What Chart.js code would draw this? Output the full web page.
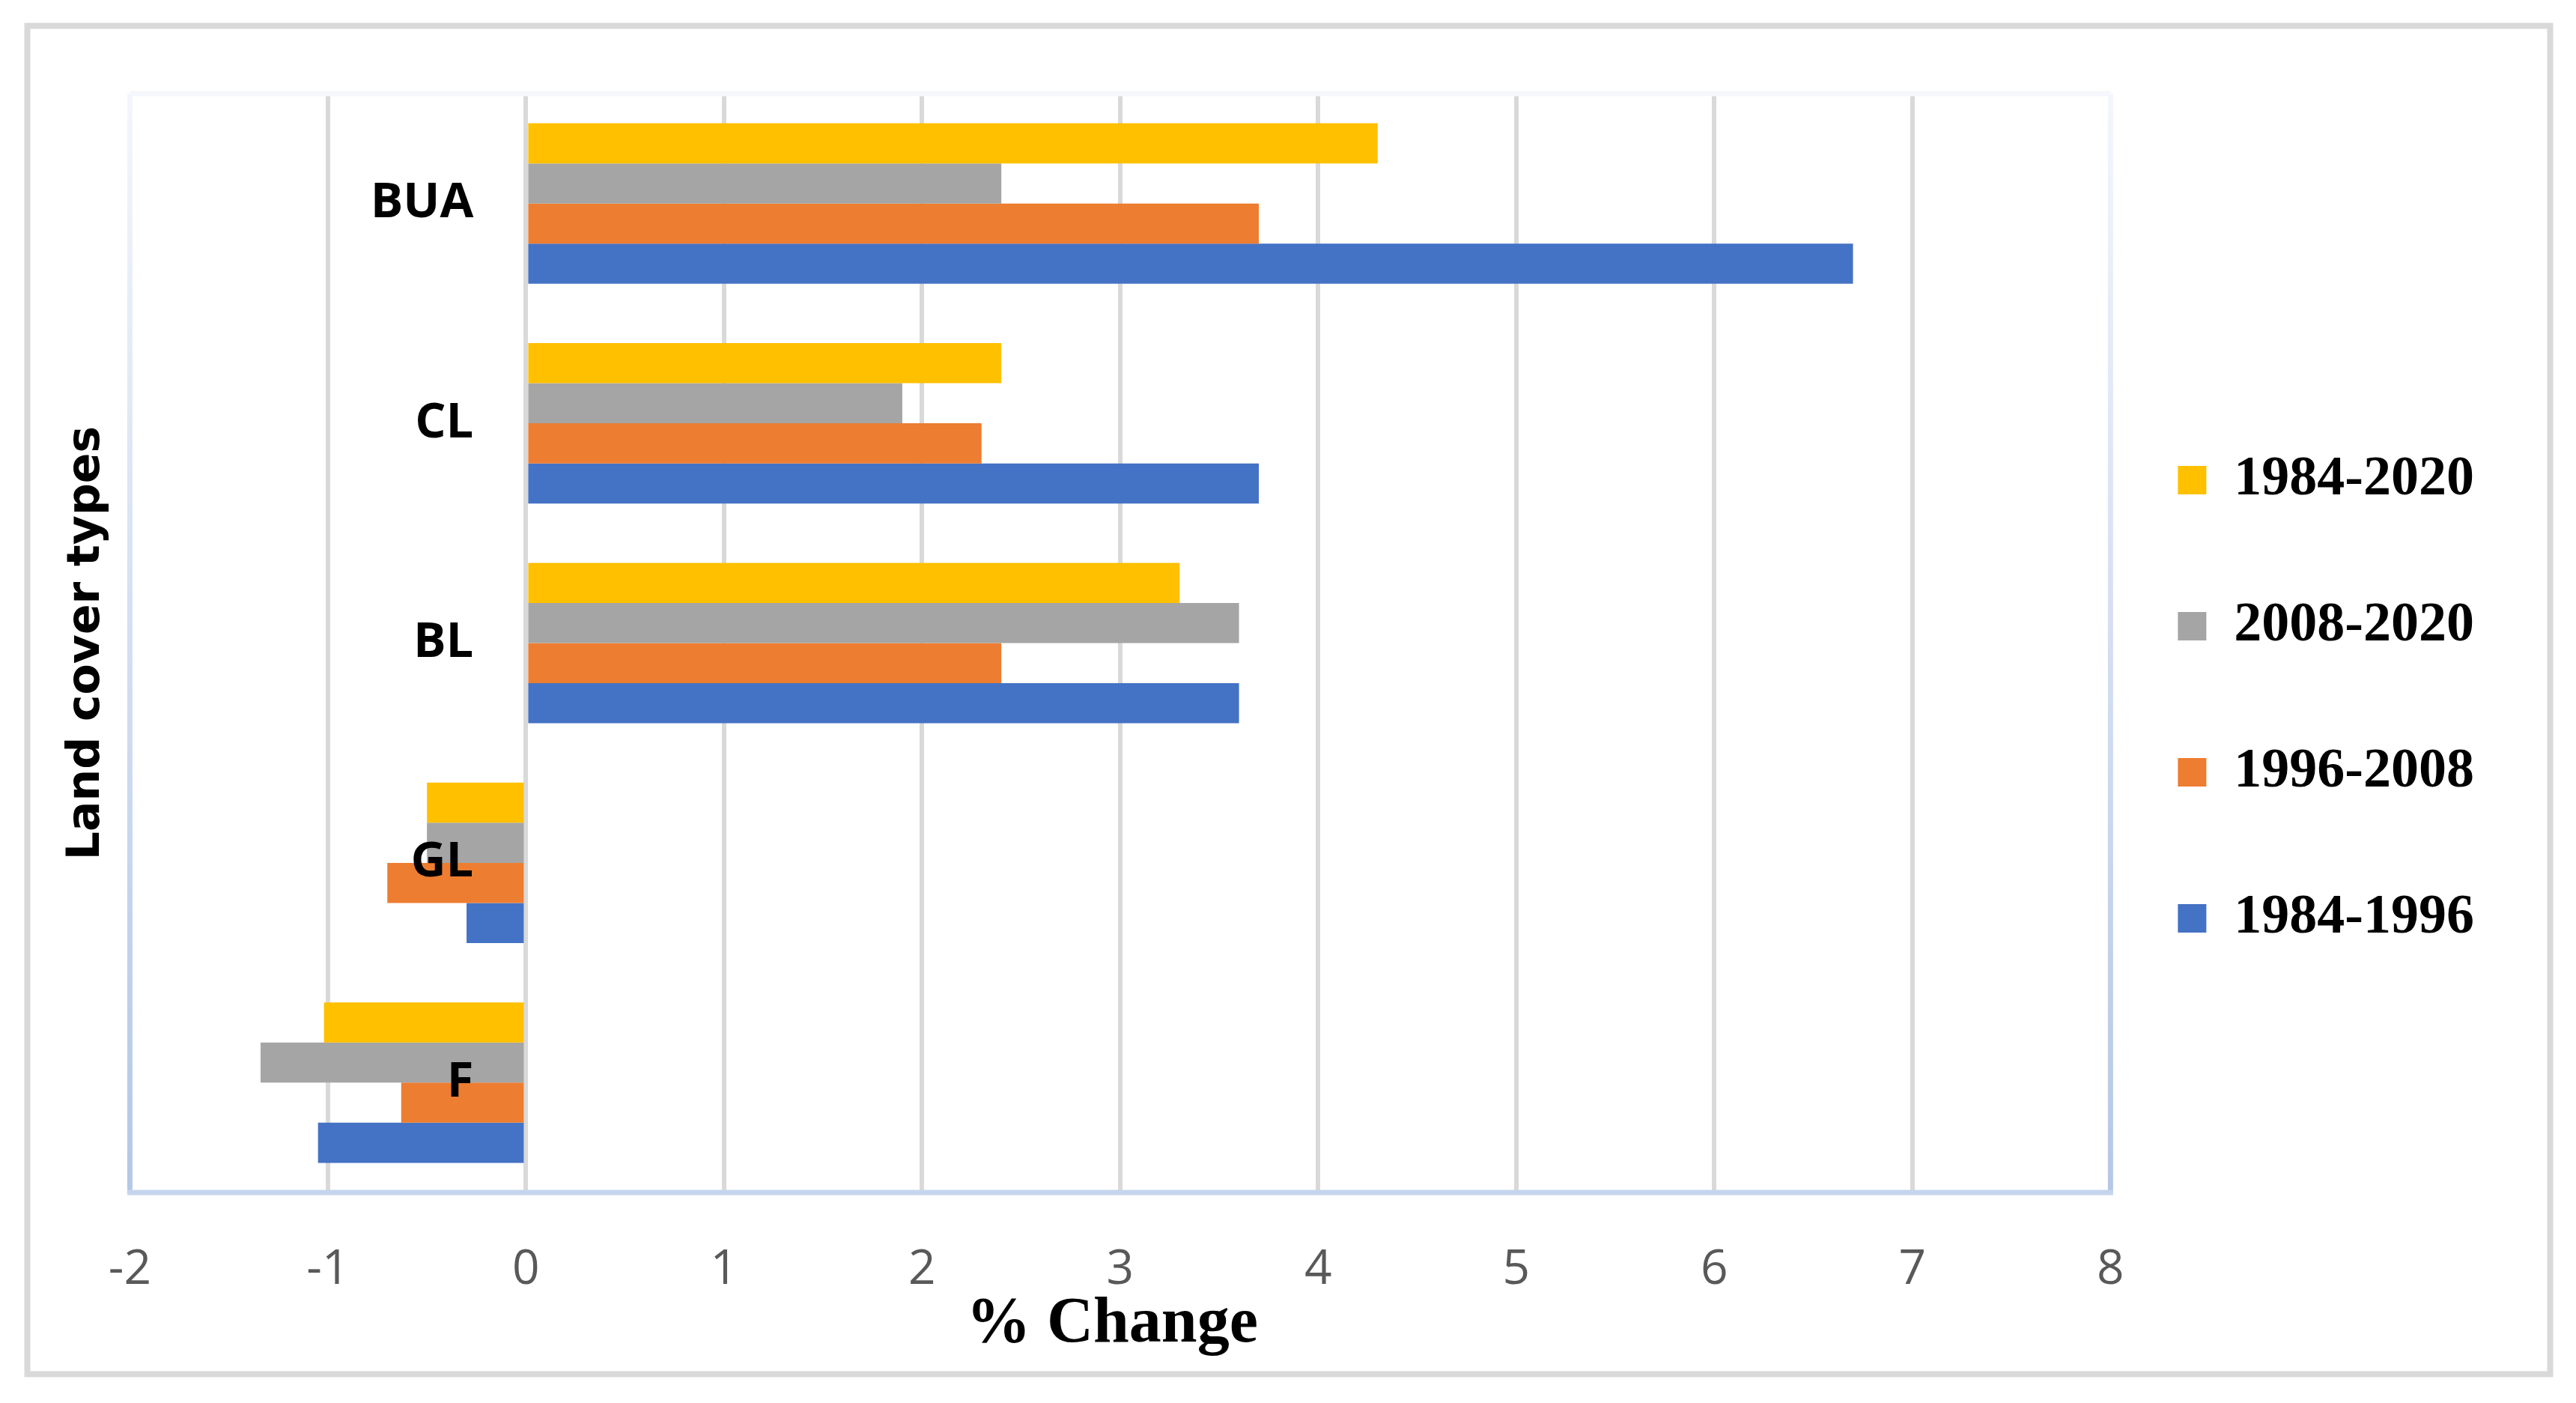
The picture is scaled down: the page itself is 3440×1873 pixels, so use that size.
<!DOCTYPE html>
<html>
<head>
<meta charset="utf-8">
<script src="https://cdn.jsdelivr.net/npm/chart.js@4/dist/chart.umd.min.js"></script>
<style>
  html, body { margin: 0; padding: 0; background: #fff; }
  canvas { display: block; }
</style>
</head>
<body>
<canvas id="changeChart" width="3440" height="1873"></canvas>
<script>
// land cover categories, top to bottom
const categories = ['BUA', 'CL', 'BL', 'GL', 'F'];

// % change per period
const change1984to2020 = [4.3, 2.4, 3.3, -0.5, -1.02];
const change2008to2020 = [2.4, 1.9, 3.6, -0.5, -1.34];
const change1996to2008 = [3.7, 2.3, 2.4, -0.7, -0.63];
const change1984to1996 = [6.7, 3.7, 3.6, -0.3, -1.05];

const xTicks = [-2, -1, 0, 1, 2, 3, 4, 5, 6, 7, 8];

// outer border + plot frame
const framePlugin = {
    id: 'frame',
    beforeDraw(chart) {
        const ctx = chart.ctx;
        ctx.save();
        ctx.fillStyle = '#ffffff';
        ctx.fillRect(0, 0, chart.width, chart.height);
        ctx.strokeStyle = '#D9D9D9';
        ctx.lineWidth = 8;
        ctx.strokeRect(36.5, 34.5, 3369, 1800);
        ctx.restore();
    },
    beforeDatasetsDraw(chart) {
        const {ctx, chartArea: a} = chart;
        ctx.save();
        ctx.lineWidth = 7;
        const side = ctx.createLinearGradient(0, a.top, 0, a.bottom);
        side.addColorStop(0, '#F3F6FC');
        side.addColorStop(1, '#B4C7E7');
        ctx.strokeStyle = '#F5F7FC';
        ctx.beginPath();
        ctx.moveTo(a.left, a.top);
        ctx.lineTo(a.right, a.top);
        ctx.stroke();
        ctx.strokeStyle = side;
        ctx.beginPath();
        ctx.moveTo(a.left, a.top);
        ctx.lineTo(a.left, a.bottom);
        ctx.moveTo(a.right, a.top);
        ctx.lineTo(a.right, a.bottom);
        ctx.stroke();
        ctx.strokeStyle = '#C6D5EE';
        ctx.beginPath();
        ctx.moveTo(a.left - 3.5, a.bottom);
        ctx.lineTo(a.right + 3.5, a.bottom);
        ctx.stroke();
        ctx.restore();
    }
};

const ctx = document.getElementById('changeChart').getContext('2d');

new Chart(ctx, {
    type: 'bar',
    data: {
        labels: categories,
        datasets: [
            { label: '1984-2020', data: change1984to2020, backgroundColor: '#FFC000', yAxisID: 'y' },
            { label: '2008-2020', data: change2008to2020, backgroundColor: '#A5A5A5', yAxisID: 'y' },
            { label: '1996-2008', data: change1996to2008, backgroundColor: '#ED7D31', yAxisID: 'y' },
            { label: '1984-1996', data: change1984to1996, backgroundColor: '#4472C4', yAxisID: 'y' }
        ]
    },
    options: {
        indexAxis: 'y',
        responsive: false,
        animation: false,
        devicePixelRatio: 1,
        datasets: {
            bar: { categoryPercentage: 0.73, barPercentage: 1.0, borderWidth: 0 }
        },
        layout: {
            padding: { top: 94.4, left: 78.1, right: 126, bottom: 69.4 }
        },
        scales: {
            y: {
                type: 'category',
                position: { x: -0.265 },
                z: 1,
                grid: { display: false, drawTicks: false },
                border: { display: false },
                ticks: {
                    z: 1,
                    color: '#000000',
                    font: { family: 'Open Sans', weight: 'bold', size: 65 }
                }
            },
            y2: {
                type: 'category',
                position: 'left',
                grid: { display: false, drawTicks: false },
                border: { display: false },
                ticks: { display: false },
                title: {
                    display: true,
                    text: 'Land cover types',
                    color: '#000000',
                    font: { family: 'DejaVu Sans', weight: 'bold', size: 60 },
                    padding: { top: 2, bottom: 21.3 }
                }
            },
            x: {
                type: 'linear',
                position: 'bottom',
                min: xTicks[0],
                max: xTicks[xTicks.length - 1],
                afterBuildTicks(scale) {
                    scale.ticks = xTicks.map(v => ({ value: v }));
                },
                grid: { color: '#D9D9D9', lineWidth: 6, drawTicks: false },
                border: { display: false },
                ticks: {
                    padding: 65,
                    color: '#595959',
                    font: { family: 'Open Sans', size: 64 }
                },
                title: {
                    display: true,
                    text: '% Change ',
                    color: '#000000',
                    font: { family: 'Liberation Serif', weight: 'bold', size: 86, lineHeight: 0.8 },
                    padding: { top: -64, bottom: 0 }
                }
            }
        },
        plugins: {
            title: {
                display: true,
                text: ' ',
                padding: 0,
                font: { size: 10, lineHeight: '30.6px' }
            },
            legend: {
                position: 'right',
                labels: {
                    boxWidth: 38,
                    boxHeight: 38,
                    padding: 90,
                    color: '#000000',
                    font: { family: 'Liberation Serif', weight: 'bold', size: 74, lineHeight: '105px' },
                    generateLabels(chart) {
                        const items = Chart.defaults.plugins.legend.labels.generateLabels(chart);
                        items.forEach(it => { it.text = [it.text]; it.lineWidth = 0; });
                        return items;
                    }
                }
            },
            tooltip: { enabled: false }
        }
    },
    plugins: [framePlugin]
});
</script>
</body>
</html>
